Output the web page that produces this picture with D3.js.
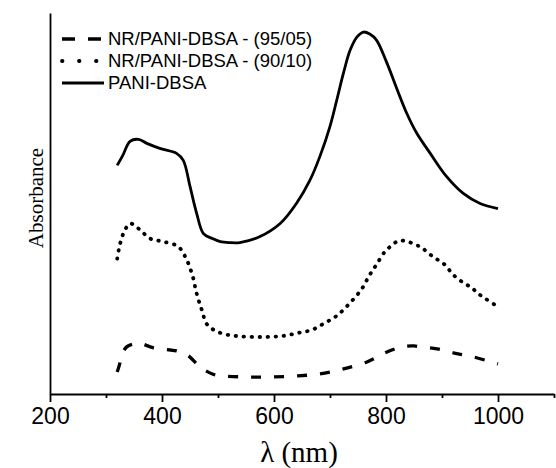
<!DOCTYPE html>
<html>
<head>
<meta charset="utf-8">
<script src="https://cdn.jsdelivr.net/npm/d3@7"></script>
<style>
  body { margin: 0; background: #fff; }
  #chart svg { display: block; }
</style>
</head>
<body>
<div id="chart"></div>
<script>
// spectra (absorbance, arbitrary units)
const WL_PANI = [320, 330, 343, 358, 373, 396, 426, 438, 450, 462, 474, 490, 504, 520, 539, 575, 611, 640, 664, 682, 700, 712, 724, 736, 748, 760, 771, 783, 801, 819, 837, 855, 879, 908, 938, 968, 1000];
const ABS_PANI = [2.28, 2.38, 2.52, 2.54, 2.50, 2.45, 2.40, 2.33, 2.07, 1.80, 1.60, 1.55, 1.52, 1.51, 1.51, 1.57, 1.70, 1.90, 2.13, 2.37, 2.67, 2.93, 3.20, 3.43, 3.56, 3.61, 3.59, 3.53, 3.31, 3.05, 2.80, 2.60, 2.40, 2.17, 2.00, 1.90, 1.85];

const WL_9010 = [320, 324, 331, 343, 358, 379, 402, 429, 444, 455, 462, 471, 481, 504, 530, 560, 590, 617, 644, 668, 688, 712, 736, 757, 770, 783, 798, 810, 823, 838, 853, 866, 879, 892, 905, 920, 938, 953, 965, 1000];
const ABS_9010 = [1.35, 1.47, 1.60, 1.70, 1.65, 1.55, 1.52, 1.47, 1.34, 1.17, 1.00, 0.84, 0.69, 0.61, 0.58, 0.57, 0.57, 0.58, 0.61, 0.64, 0.70, 0.78, 0.91, 1.05, 1.18, 1.29, 1.42, 1.48, 1.53, 1.52, 1.49, 1.45, 1.39, 1.34, 1.29, 1.19, 1.11, 1.06, 1.00, 0.87];

const WL_9505 = [320, 324, 328, 337, 350, 358, 385, 426, 445, 468, 490, 510, 551, 593, 638, 682, 724, 766, 798, 828, 850, 861, 891, 920, 956, 1000];
const ABS_9505 = [0.22, 0.29, 0.39, 0.47, 0.50, 0.51, 0.46, 0.43, 0.39, 0.27, 0.20, 0.18, 0.17, 0.17, 0.18, 0.20, 0.25, 0.32, 0.41, 0.47, 0.48, 0.47, 0.45, 0.41, 0.37, 0.30];

const X_MAJOR = [200, 400, 600, 800, 1000];
const X_MINOR = [300, 500, 700, 900, 1100];
const LEGEND_LABELS = ["NR/PANI-DBSA - (95/05)", "NR/PANI-DBSA - (90/10)", "PANI-DBSA"];

const width = 556;
const height = 468;

const svg = d3.select('#chart').append('svg')
  .attr('width', width)
  .attr('height', height);

const x = d3.scaleLinear().domain([200, 1100]).range([50, 554]);
const y = d3.scaleLinear().domain([0, 3.8]).range([394, 13]);

const series = [
  { wl: WL_9505, abs: ABS_9505, dash: '10 13', cap: 'butt', w: 3.3, legDash: '13 13' },
  { wl: WL_9010, abs: ABS_9010, dash: '0.5 7.5', cap: 'round', w: 3.8, legDash: '0.5 16.5' },
  { wl: WL_PANI, abs: ABS_PANI, dash: null, cap: 'butt', w: 2.8, legDash: null }
];

const line = d3.line()
  .x(d => x(d[0]))
  .y(d => y(d[1]))
  .curve(d3.curveCatmullRom.alpha(0.5));

series.forEach(s => {
  const pts = s.wl.map((v, i) => [v, s.abs[i]]);
  svg.append('path')
    .datum(pts)
    .attr('d', line)
    .attr('fill', 'none')
    .attr('stroke', '#000')
    .attr('stroke-width', s.w)
    .attr('stroke-linecap', s.cap)
    .attr('stroke-linejoin', 'round')
    .attr('stroke-dasharray', s.dash);
});

// axes
const xAxis = svg.append('g')
  .attr('transform', 'translate(0,394)')
  .call(d3.axisBottom(x).tickValues(X_MAJOR).tickFormat(d3.format('d'))
    .tickSize(8).tickSizeOuter(0).tickPadding(6));
svg.append('g')
  .attr('transform', 'translate(0,394)')
  .call(d3.axisBottom(x).tickValues(X_MINOR).tickSize(4).tickSizeOuter(0).tickFormat(''))
  .select('.domain').remove();

xAxis.selectAll('text')
  .attr('font-family', 'Liberation Sans, Arial, sans-serif')
  .attr('font-size', 23)
  .attr('fill', '#000');

svg.selectAll('.domain, .tick line')
  .attr('stroke', '#000')
  .attr('stroke-width', 1.8);

svg.append('g')
  .attr('transform', 'translate(50,0)')
  .call(d3.axisLeft(y).tickValues([]).tickSizeOuter(0))
  .select('.domain')
  .attr('stroke', '#000')
  .attr('stroke-width', 1.8);

// axis titles
svg.append('text')
  .attr('transform', 'translate(43,198) rotate(-90)')
  .attr('text-anchor', 'middle')
  .attr('font-family', 'Liberation Serif, Times New Roman, serif')
  .attr('font-size', 21)
  .text('Absorbance');

svg.append('text')
  .attr('x', 299)
  .attr('y', 462)
  .attr('text-anchor', 'middle')
  .attr('font-family', 'Liberation Serif, Times New Roman, serif')
  .attr('font-size', 29)
  .text('λ (nm)');

// legend
const legend = svg.append('g');
series.forEach((s, i) => {
  const ly = 39 + i * 22;
  legend.append('line')
    .attr('x1', 62).attr('x2', 104)
    .attr('y1', ly).attr('y2', ly)
    .attr('stroke', '#000')
    .attr('stroke-width', s.w)
    .attr('stroke-linecap', s.cap)
    .attr('stroke-dasharray', s.legDash);
  legend.append('text')
    .attr('x', 108)
    .attr('y', ly)
    .attr('dy', '0.35em')
    .attr('font-family', 'Liberation Sans, Arial, sans-serif')
    .attr('font-size', 18.5)
    .text(LEGEND_LABELS[i]);
});
</script>
</body>
</html>
